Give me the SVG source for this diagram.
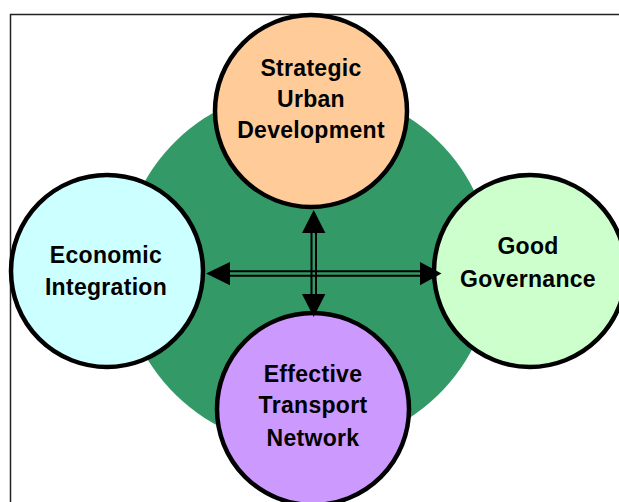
<svg xmlns="http://www.w3.org/2000/svg" width="619" height="502" viewBox="0 0 619 502">
  <style>
    .node { stroke: #000; stroke-width: 4.5; }
    .label { font-family: "Liberation Sans", Arial, sans-serif; font-weight: bold; font-size: 23px; letter-spacing: 0.3px; fill: #000; text-anchor: middle; }
    .rail { stroke: #000; stroke-width: 2; fill: none; }
    .head { fill: #000; }
  </style>

  <!-- outer frame -->
  <rect x="10.5" y="14.5" width="640" height="520" fill="#fff" stroke="#222" stroke-width="1.5"/>

  <!-- central disc -->
  <g id="hub">
    <ellipse cx="307" cy="268" rx="185" ry="180" fill="#339966"/>
  </g>

  <g id="strategic-urban-development">
    <circle class="node" cx="311" cy="111" r="96" fill="#FFCC99"/>
    <text class="label" x="311" y="76">Strategic</text>
    <text class="label" x="311" y="107">Urban</text>
    <text class="label" x="311" y="138">Development</text>
  </g>

  <g id="economic-integration">
    <circle class="node" cx="107" cy="271" r="96" fill="#CCFFFF"/>
    <text class="label" x="106" y="263">Economic</text>
    <text class="label" x="106" y="295">Integration</text>
  </g>

  <g id="good-governance">
    <circle class="node" cx="530" cy="271" r="96" fill="#CCFFCC"/>
    <text class="label" x="528" y="254">Good</text>
    <text class="label" x="528" y="287">Governance</text>
  </g>

  <g id="effective-transport-network">
    <circle class="node" cx="313" cy="409" r="96" fill="#CC99FF"/>
    <text class="label" x="313" y="382">Effective</text>
    <text class="label" x="313" y="413">Transport</text>
    <text class="label" x="313" y="446">Network</text>
  </g>

  <!-- double-line arrows between the four themes -->
  <g id="connectors">
    <line class="rail" x1="311.5" y1="230" x2="311.5" y2="297"/>
    <line class="rail" x1="316" y1="230" x2="316" y2="297"/>
    <line class="rail" x1="227" y1="271.3" x2="423" y2="271.3"/>
    <line class="rail" x1="227" y1="275.8" x2="423" y2="275.8"/>
    <polygon class="head" points="313.7,210 302,233 325.4,233"/>
    <polygon class="head" points="313.7,317 302,294 325.4,294"/>
    <polygon class="head" points="206,273.6 230,262 230,285.2"/>
    <polygon class="head" points="441.5,273.6 420,262 420,285.2"/>
  </g>
</svg>
